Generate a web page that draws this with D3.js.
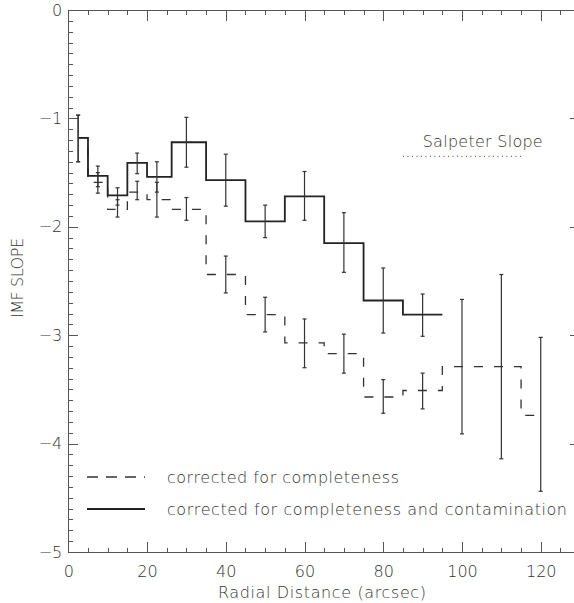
<!DOCTYPE html>
<html>
<head>
<meta charset="utf-8">
<script src="https://cdn.jsdelivr.net/npm/d3@7"></script>
<style>
  body { margin: 0; background: #fff; overflow: hidden; }
  svg { display: block; }
  text { font-family: "DejaVu Sans", sans-serif; font-weight: 200; fill: #333; }
  .axis path, .axis line { stroke: #555; stroke-width: 1; shape-rendering: crispEdges; }
  .axis text { font-size: 16px; }
</style>
</head>
<body>
<div id="chart"></div>
<script>
// radial bins (arcsec)
var radius = [2.5, 7.5, 12.5, 17.5, 22.5, 30, 40, 50, 60, 70, 80, 90, 100, 110, 120];

// corrected for completeness and contamination (solid)
var solidSlope = [-1.18, -1.53, -1.71, -1.41, -1.54, -1.22, -1.57, -1.95, -1.72, -2.15, -2.68, -2.81];
var solidHigh  = [-0.97, -1.44, -1.64, -1.32, -1.40, -0.99, -1.33, -1.80, -1.49, -1.87, -2.38, -2.62];
var solidLow   = [-1.40, -1.63, -1.80, -1.51, -1.68, -1.45, -1.81, -2.10, -1.94, -2.42, -2.98, -3.01];
var solidLastEdge = 95;

// corrected for completeness (dashed)
var dashSlope = [-1.18, -1.59, -1.84, -1.68, -1.75, -1.84, -2.44, -2.81, -3.07, -3.17, -3.57, -3.51, -3.29, -3.29, -3.74];
var dashHigh  = [-0.97, -1.50, -1.75, -1.58, -1.59, -1.73, -2.27, -2.65, -2.85, -2.99, -3.41, -3.35, -2.67, -2.44, -3.02];
var dashLow   = [-1.40, -1.69, -1.91, -1.75, -1.91, -1.94, -2.61, -2.97, -3.30, -3.35, -3.72, -3.68, -3.91, -4.14, -4.44];

var salpeter = -1.35;
var salpeterRange = [85, 115];

var xMajor = [0, 20, 40, 60, 80, 100, 120];
var yMajor = [0, -1, -2, -3, -4, -5];

var legendLabels = ["corrected for completeness", "corrected for completeness and contamination"];

var margin = { top: 10, left: 68.3 };
var width = 511.8, height = 542;

var svg = d3.select("#chart").append("svg")
  .attr("width", 574).attr("height", 603)
  .append("g")
  .attr("transform", `translate(${margin.left},${margin.top})`);

var x = d3.scaleLinear().domain([0, 130]).range([0, width]);
var y = d3.scaleLinear().domain([-5, 0]).range([height, 0]);

var xMinor = d3.range(0, 131, 5);
var yMinor = d3.range(-50, 1).map(function(d) { return d / 10; });

// minor ticks
svg.append("g").attr("class", "axis").attr("transform", `translate(0,${height})`)
  .call(d3.axisBottom(x).tickValues(xMinor).tickSize(-4.5).tickSizeOuter(0).tickFormat(""));
svg.append("g").attr("class", "axis")
  .call(d3.axisTop(x).tickValues(xMinor).tickSize(-5).tickSizeOuter(0).tickFormat(""));
svg.append("g").attr("class", "axis")
  .call(d3.axisLeft(y).tickValues(yMinor).tickSize(-5).tickSizeOuter(0).tickFormat(""));
svg.append("g").attr("class", "axis").attr("transform", `translate(${width},0)`)
  .call(d3.axisRight(y).tickValues(yMinor).tickSize(-5).tickSizeOuter(0).tickFormat(""));

// major ticks
svg.append("g").attr("class", "axis").attr("transform", `translate(0,${height})`)
  .call(d3.axisBottom(x).tickValues(xMajor).tickSize(-10.5).tickSizeOuter(0).tickPadding(14));
svg.append("g").attr("class", "axis")
  .call(d3.axisTop(x).tickValues(xMajor).tickSize(-10.5).tickSizeOuter(0).tickFormat(""));
svg.append("g").attr("class", "axis")
  .call(d3.axisLeft(y).tickValues(yMajor).tickSize(-10).tickSizeOuter(0).tickPadding(6)
    .tickFormat(d3.format("d")));
svg.append("g").attr("class", "axis").attr("transform", `translate(${width},0)`)
  .call(d3.axisRight(y).tickValues(yMajor).tickSize(-10).tickSizeOuter(0).tickFormat(""));

// axis titles
svg.append("text")
  .attr("x", 218 - margin.left).attr("y", 598 - margin.top)
  .attr("textLength", 208).attr("lengthAdjust", "spacing")
  .style("font-size", "16px")
  .text("Radial Distance (arcsec)");
svg.append("text")
  .attr("transform", `translate(${23 - margin.left},${318 - margin.top}) rotate(-90)`)
  .attr("textLength", 80).attr("lengthAdjust", "spacing")
  .style("font-size", "16px")
  .text("IMF SLOPE");

// histograms
var step = d3.line()
  .x(function(d) { return x(d[0]); })
  .y(function(d) { return y(d[1]); })
  .curve(d3.curveStep);

var dashPts = radius.map(function(r, i) { return [r, dashSlope[i]]; });
var solidPts = solidSlope.map(function(s, i) { return [radius[i], s]; });
solidPts.push([solidLastEdge, solidSlope[solidSlope.length - 1]]);

svg.append("path").datum(dashPts)
  .attr("d", step).attr("fill", "none")
  .attr("stroke", "#333").attr("stroke-width", 1.3)
  .attr("stroke-dasharray", "9,11");

svg.append("path").datum(solidPts)
  .attr("d", step).attr("fill", "none")
  .attr("stroke", "#222").attr("stroke-width", 1.8);

// error bars
function errorBars(hi, lo) {
  var g = svg.append("g").attr("stroke", "#333").attr("stroke-width", 1.2);
  hi.forEach(function(h, i) {
    var cx = x(radius[i]);
    g.append("line").attr("x1", cx).attr("x2", cx).attr("y1", y(h)).attr("y2", y(lo[i]));
    g.append("line").attr("x1", cx - 2).attr("x2", cx + 2).attr("y1", y(h)).attr("y2", y(h));
    g.append("line").attr("x1", cx - 2).attr("x2", cx + 2).attr("y1", y(lo[i])).attr("y2", y(lo[i]));
  });
}
errorBars(dashHigh, dashLow);
errorBars(solidHigh, solidLow);

// Salpeter reference
svg.append("line")
  .attr("x1", x(salpeterRange[0])).attr("x2", x(salpeterRange[1]))
  .attr("y1", y(salpeter)).attr("y2", y(salpeter))
  .attr("stroke", "#444").attr("stroke-width", 1)
  .attr("stroke-dasharray", "1,3.5");
svg.append("text")
  .attr("x", 422.7 - margin.left).attr("y", 147 - margin.top)
  .attr("textLength", 120).attr("lengthAdjust", "spacing")
  .style("font-size", "16px")
  .text("Salpeter Slope");

// legend
var legendWidths = [232, 400];
var legend = svg.selectAll(".legend")
  .data(legendLabels)
  .enter().append("g")
  .attr("class", "legend")
  .attr("transform", function(d, i) { return `translate(0,${477 - margin.top + i * 32})`; });

legend.append("line")
  .attr("x1", 87 - margin.left).attr("x2", 145 - margin.left)
  .attr("stroke", function(d, i) { return i ? "#222" : "#333"; })
  .attr("stroke-width", function(d, i) { return i ? 1.8 : 1.3; })
  .attr("stroke-dasharray", function(d, i) { return i ? null : "11,8"; });

legend.append("text")
  .attr("x", 167 - margin.left).attr("y", 5.5)
  .attr("textLength", function(d, i) { return legendWidths[i]; })
  .attr("lengthAdjust", "spacing")
  .style("font-size", "16px")
  .text(function(d) { return d; });
</script>
</body>
</html>
